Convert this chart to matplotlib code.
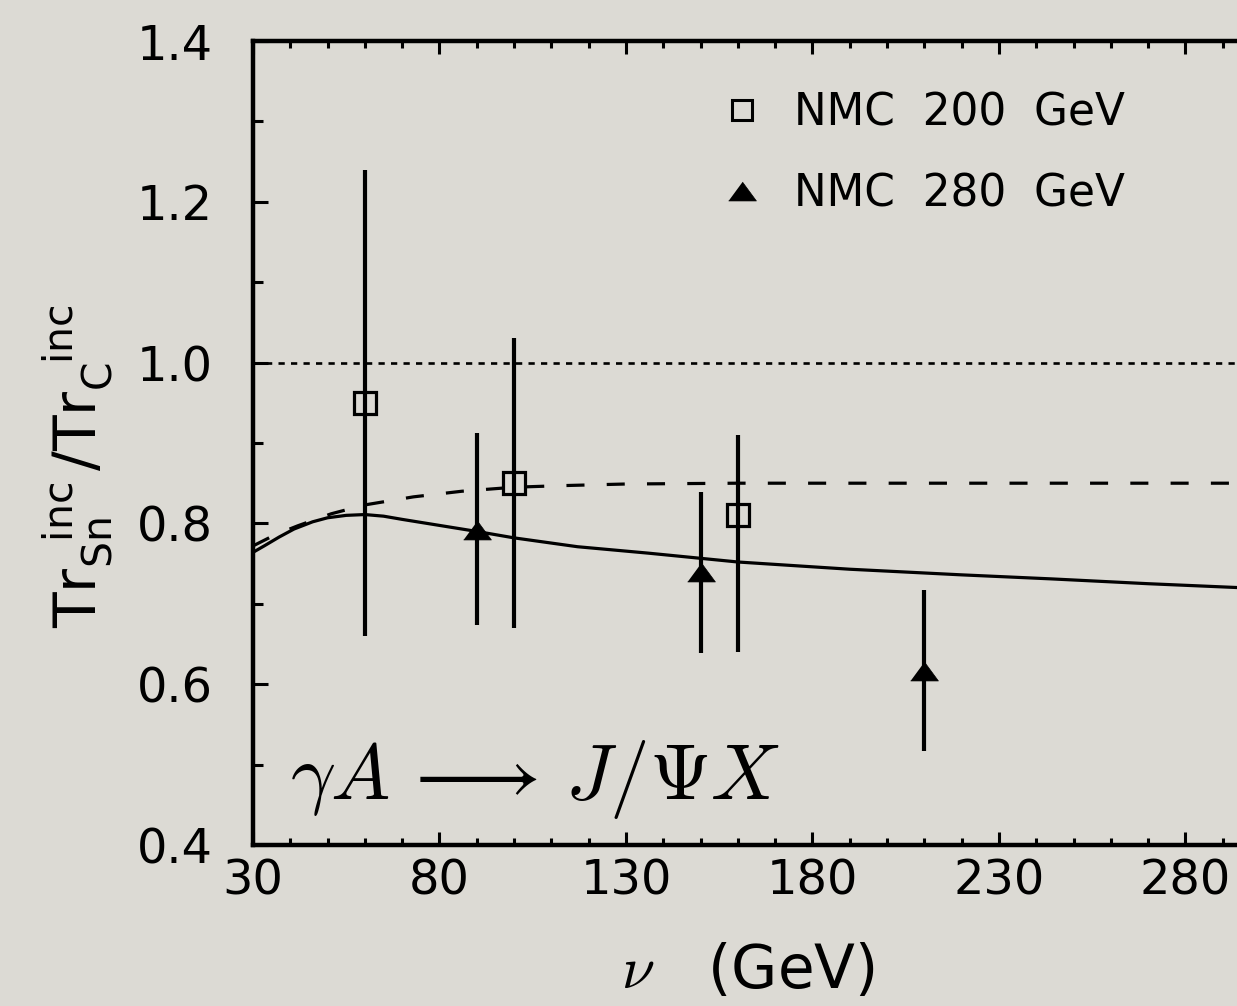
import matplotlib
matplotlib.use("Agg")
import matplotlib.pyplot as plt
from matplotlib.lines import Line2D
from matplotlib.ticker import MultipleLocator, FixedLocator

# ---------------- data ----------------
nmc200_nu = [60, 100, 160]
nmc200_ratio = [0.95, 0.85, 0.81]
nmc200_err_lo = [0.29, 0.18, 0.17]
nmc200_err_hi = [0.29, 0.18, 0.10]

nmc280_nu = [90, 150, 210]
nmc280_ratio = [0.792, 0.739, 0.617]
nmc280_err_lo = [0.118, 0.10, 0.10]
nmc280_err_hi = [0.120, 0.10, 0.10]

solid_nu = [30, 33, 37, 41, 46, 50, 55, 60, 65, 70, 82, 90, 100, 117, 136, 160, 190, 220, 244, 270, 300]
solid_ratio = [0.764, 0.772, 0.783, 0.793, 0.802, 0.807, 0.810, 0.811, 0.809, 0.805, 0.796,
               0.790, 0.782, 0.771, 0.763, 0.752, 0.743, 0.736, 0.731, 0.725, 0.719]

dashed_nu = [30, 36, 42, 51, 60, 73, 86, 100, 113, 130, 160, 200, 300]
dashed_ratio = [0.772, 0.786, 0.797, 0.812, 0.823, 0.833, 0.840, 0.845, 0.847, 0.849, 0.850, 0.850, 0.850]

unity_level = 1.0
legend_labels = ["NMC  200  GeV", "NMC  280  GeV"]
x_ticks = [30, 80, 130, 180, 230, 280]
y_ticks = [0.4, 0.6, 0.8, 1.0, 1.2, 1.4]
x_limits = (30, 300)
y_limits = (0.4, 1.4)

# ---------------- style ----------------
plt.rcParams["font.family"] = ["DejaVu Sans"]
plt.rcParams["mathtext.fontset"] = "custom"
plt.rcParams["mathtext.sf"] = "DejaVu Sans"
plt.rcParams["mathtext.rm"] = "DejaVu Sans"
plt.rcParams["lines.scale_dashes"] = False

bg = "#dcdad4"
W, H = 1237, 1006
fig = plt.figure(figsize=(W / 100, H / 100), dpi=100, facecolor=bg)

ax_left_px, ax_right_px = 253, 1260
ax_top_px, ax_bot_px = 41, 845
ax = fig.add_axes([ax_left_px / W, 1 - ax_bot_px / H,
                   (ax_right_px - ax_left_px) / W, (ax_bot_px - ax_top_px) / H])
ax.set_facecolor(bg)
ax.set_xlim(*x_limits)
ax.set_ylim(*y_limits)

tri = [(-1, -0.68), (1, -0.68), (0, 0.68)]

# reference line
ax.axhline(unity_level, color="black", lw=1.9, dashes=(4.5, 4.5))
# curves
ax.plot(dashed_nu, dashed_ratio, color="black", lw=2.3, dashes=(13, 16))
ax.plot(solid_nu, solid_ratio, color="black", lw=2.3)

# data
ax.errorbar(nmc200_nu, nmc200_ratio, yerr=[nmc200_err_lo, nmc200_err_hi],
            fmt="s", ms=16, mfc="none", mec="black", mew=2.3,
            ecolor="black", elinewidth=3.0, capsize=0, zorder=5)
ax.errorbar(nmc280_nu, nmc280_ratio, yerr=[nmc280_err_lo, nmc280_err_hi],
            fmt="none", ecolor="black", elinewidth=3.0, capsize=0, zorder=5)
ax.plot(nmc280_nu, nmc280_ratio, linestyle="none", marker=tri, ms=20,
        mfc="black", mec="black", mew=0.5, zorder=6)

# axes styling
for s in ["left", "bottom", "top"]:
    ax.spines[s].set_linewidth(3.2)
ax.spines["right"].set_visible(False)
ax.xaxis.set_major_locator(FixedLocator(x_ticks))
ax.xaxis.set_minor_locator(MultipleLocator(10))
ax.yaxis.set_major_locator(FixedLocator(y_ticks))
ax.yaxis.set_minor_locator(MultipleLocator(0.1))
ax.yaxis.set_major_formatter(matplotlib.ticker.FormatStrFormatter("%.1f"))
ax.tick_params(axis="x", which="both", direction="in", top=True, bottom=True,
               width=2.2, labelsize=34.5, pad=9)
ax.tick_params(axis="x", which="major", length=9.5)
ax.tick_params(axis="x", which="minor", length=5)
ax.tick_params(axis="y", which="both", direction="in", left=True, right=False,
               width=2.2, labelsize=34.5, pad=29)
ax.tick_params(axis="y", which="major", length=11)
ax.tick_params(axis="y", which="minor", length=7)

# labels
ax.set_xlabel(r"$\nu$   (GeV)", fontsize=43, math_fontfamily="cm", va="center")
ax.xaxis.set_label_coords((748 - ax_left_px) / (ax_right_px - ax_left_px),
                          (ax_bot_px - 972) / (ax_bot_px - ax_top_px))
ax.set_ylabel(r"$\mathsf{Tr}_{\mathsf{Sn}}^{\ \ \mathsf{inc}}\,/\mathsf{Tr}_{\mathsf{C}}^{\ \ \mathsf{inc}}$",
              fontsize=42, va="center")
ax.yaxis.set_label_coords((78 - ax_left_px) / (ax_right_px - ax_left_px),
                          (ax_bot_px - 466) / (ax_bot_px - ax_top_px))

ax.text((290 - ax_left_px) / (ax_right_px - ax_left_px),
        (ax_bot_px - 799) / (ax_bot_px - ax_top_px),
        r"$\gamma A\,\longrightarrow\, J/\Psi X$", transform=ax.transAxes,
        fontsize=57, math_fontfamily="cm", ha="left", va="baseline")

# legend
handles = [
    Line2D([], [], linestyle="none", marker="s", ms=14, mfc="none", mec="black", mew=2.2),
    Line2D([], [], linestyle="none", marker=tri, ms=20, mfc="black", mec="black", mew=0.5),
]
leg = ax.legend(handles, legend_labels, loc="upper left",
                bbox_to_anchor=(720 / W, 1 - 91 / H), bbox_transform=fig.transFigure,
                frameon=False, fontsize=31.5, handlelength=1.0, handletextpad=0.7,
                labelspacing=0.88, borderpad=0, borderaxespad=0)

fig.savefig("out.png", dpi=100, facecolor=bg)
